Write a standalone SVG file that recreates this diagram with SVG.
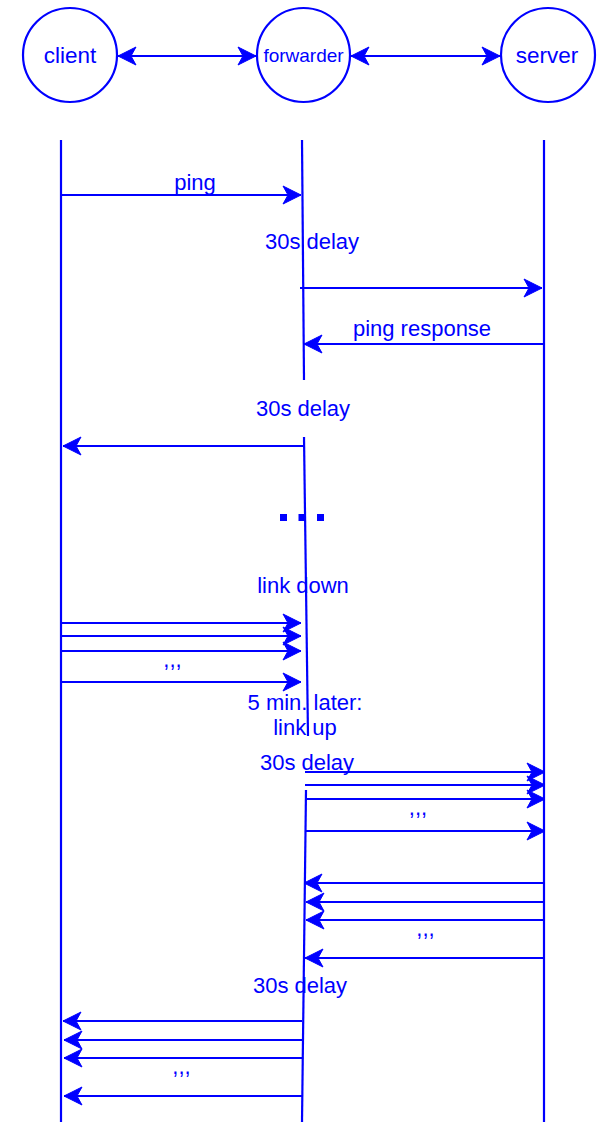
<svg xmlns="http://www.w3.org/2000/svg" width="603" height="1122" viewBox="0 0 603 1122">
  <style>
    .ln { stroke: #0000FF; stroke-width: 2.2; fill: none; }
    .arr { stroke: #0000FF; stroke-width: 2.2; fill: none; marker-end: url(#ah); }
    .dbl { stroke: #0000FF; stroke-width: 2.2; fill: none; marker-end: url(#ah); marker-start: url(#ahs); }
    .node { stroke: #0000FF; stroke-width: 2.2; fill: #FFFFFF; }
    text { font-family: "Liberation Sans", Arial, sans-serif; fill: #0000FF; text-anchor: middle; }
    .lbl { font-size: 22px; }
    .nt { font-size: 22.5px; }
  </style>
  <defs>
    <marker id="ah" markerUnits="userSpaceOnUse" markerWidth="24" markerHeight="24" viewBox="-21 -12 24 24" refX="0" refY="0" orient="auto">
      <path d="M0,0 L-18,-9 L-13,0 L-18,9 Z" fill="#0000FF" stroke="#0000FF" stroke-width="1"/>
    </marker>
    <marker id="ahs" markerUnits="userSpaceOnUse" markerWidth="24" markerHeight="24" viewBox="-3 -12 24 24" refX="0" refY="0" orient="auto">
      <path d="M0,0 L18,-9 L13,0 L18,9 Z" fill="#0000FF" stroke="#0000FF" stroke-width="1"/>
    </marker>
  </defs>

  <g id="node-client">
    <ellipse class="node" cx="70" cy="55" rx="47" ry="47"/>
    <text class="nt" x="70" y="63">client</text>
  </g>
  <g id="node-forwarder">
    <ellipse class="node" cx="303.5" cy="55" rx="46.5" ry="47"/>
    <text x="303.5" y="62" style="font-size:19px">forwarder</text>
  </g>
  <g id="node-server">
    <ellipse class="node" cx="548" cy="55" rx="47" ry="47"/>
    <text class="nt" x="547" y="63">server</text>
  </g>

  <g id="connectors">
    <line class="dbl" x1="118" y1="56" x2="256" y2="56"/>
    <line class="dbl" x1="351" y1="56" x2="500" y2="56"/>

    <!-- lifelines -->
    <line class="ln" x1="61" y1="140" x2="61" y2="1122"/>
    <line class="ln" x1="544" y1="140" x2="544" y2="1122"/>
    <line class="ln" x1="302" y1="140" x2="304" y2="380"/>
    <line class="ln" x1="304" y1="437" x2="308" y2="736"/>
    <line class="ln" x1="306" y1="790" x2="302" y2="1122"/>

    <!-- messages -->
    <line class="arr" x1="61" y1="195" x2="301" y2="195"/>
    <line class="arr" x1="300" y1="288" x2="542" y2="288"/>
    <line class="arr" x1="544" y1="344" x2="304" y2="344"/>
    <line class="arr" x1="304" y1="446" x2="63" y2="446"/>

    <line class="arr" x1="61" y1="623" x2="301" y2="623"/>
    <line class="arr" x1="61" y1="636" x2="301" y2="636"/>
    <line class="arr" x1="61" y1="651" x2="301" y2="651"/>
    <line class="arr" x1="61" y1="682" x2="301" y2="682"/>

    <line class="arr" x1="305" y1="772" x2="545" y2="772"/>
    <line class="arr" x1="305" y1="785" x2="545" y2="785"/>
    <line class="arr" x1="305" y1="799" x2="545" y2="799"/>
    <line class="arr" x1="305" y1="831" x2="545" y2="831"/>

    <line class="arr" x1="545" y1="883" x2="304" y2="883"/>
    <line class="arr" x1="545" y1="902" x2="306" y2="902"/>
    <line class="arr" x1="545" y1="920" x2="306" y2="920"/>
    <line class="arr" x1="545" y1="958" x2="305" y2="958"/>

    <line class="arr" x1="302" y1="1021" x2="63" y2="1021"/>
    <line class="arr" x1="302" y1="1040" x2="64" y2="1040"/>
    <line class="arr" x1="302" y1="1058" x2="64" y2="1058"/>
    <line class="arr" x1="302" y1="1096" x2="64" y2="1096"/>
  </g>

  <g id="labels">
    <text class="lbl" x="195" y="190">ping</text>
    <text class="lbl" x="312" y="249">30s delay</text>
    <text class="lbl" x="422" y="336">ping response</text>
    <text class="lbl" x="303" y="416">30s delay</text>
    <text class="lbl" x="303" y="593">link down</text>
    <text class="lbl" x="172.5" y="667">,,,</text>
    <text class="lbl" x="305" y="710">5 min. later:</text>
    <text class="lbl" x="305" y="735">link up</text>
    <text class="lbl" x="307" y="770">30s delay</text>
    <text class="lbl" x="418" y="815">,,,</text>
    <text class="lbl" x="425.5" y="936">,,,</text>
    <text class="lbl" x="300" y="993">30s delay</text>
    <text class="lbl" x="181.5" y="1074">,,,</text>
  </g>

  <g id="ellipsis-dots" fill="#0000FF">
    <rect x="280" y="514" width="7" height="7"/>
    <rect x="298.5" y="514" width="7" height="7"/>
    <rect x="317" y="514" width="7" height="7"/>
  </g>
</svg>
